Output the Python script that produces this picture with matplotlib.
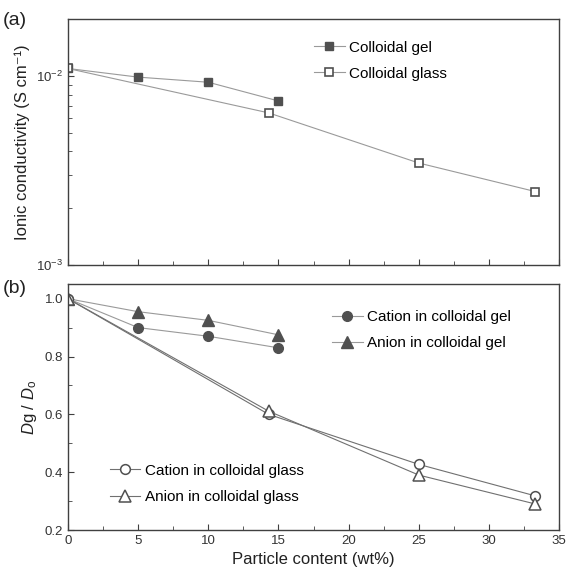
import matplotlib
import matplotlib.pyplot as plt
from matplotlib.ticker import LogLocator, MultipleLocator, FixedLocator, NullFormatter, FormatStrFormatter

matplotlib.use("Agg")

plt.rcParams["font.family"] = ["Liberation Sans", "DejaVu Sans"]
plt.rcParams["mathtext.fontset"] = "custom"
plt.rcParams["mathtext.rm"] = "Liberation Sans"
plt.rcParams["mathtext.it"] = "Liberation Sans:italic"

# (a) ionic conductivity
gel_x = [0, 5, 10, 15]
gel_cond = [1.10e-2, 0.99e-2, 9.3e-3, 7.4e-3]
glass_x = [0, 14.3, 25, 33.3]
glass_cond = [1.10e-2, 6.4e-3, 3.47e-3, 2.45e-3]

# (b) normalized diffusion coefficients
cation_gel = [1.0, 0.90, 0.87, 0.83]
anion_gel = [1.0, 0.955, 0.925, 0.875]
cation_glass = [1.0, 0.60, 0.427, 0.318]
anion_glass = [1.0, 0.611, 0.39, 0.29]

LINE = "#9a9a9a"
MARK = "#505050"
SPINE = "#404040"

fig = plt.figure(figsize=(5.66, 5.73), dpi=100)
ax1 = fig.add_axes([0.120, 0.5375, 0.868, 0.4285])
ax2 = fig.add_axes([0.120, 0.075, 0.868, 0.429])

for ax in (ax1, ax2):
	for s in ax.spines.values():
		s.set_color(SPINE)
		s.set_linewidth(1.0)
	ax.tick_params(which="both", direction="in", color=SPINE, labelsize=9.5, labelcolor="#333333")
	ax.tick_params(which="major", length=4)
	ax.tick_params(which="minor", length=3)
	ax.set_xlim(0, 35)
	ax.xaxis.set_major_locator(MultipleLocator(5))
	ax.xaxis.set_minor_locator(MultipleLocator(2.5))

ax1.plot(gel_x, gel_cond, "-s", color=LINE, lw=0.8, ms=6, mfc=MARK, mec=MARK, label="Colloidal gel")
ax1.plot(glass_x, glass_cond, "-s", color=LINE, lw=0.8, ms=6, mfc="white", mec=MARK, mew=1.2,
	label="Colloidal glass")
ax1.set_yscale("log")
ax1.set_ylim(1e-3, 2e-2)
ax1.yaxis.set_major_locator(FixedLocator([1e-3, 1e-2]))
ax1.yaxis.set_minor_locator(LogLocator(base=10, subs=[2, 3, 4, 5, 6, 7, 8, 9]))
ax1.yaxis.set_minor_formatter(NullFormatter())
ax1.set_yticklabels([r"10$^{-3}$", r"10$^{-2}$"])
ax1.tick_params(axis="x", labelbottom=False)
ax1.set_ylabel("Ionic conductivity (S cm⁻¹)", fontsize=12, color="#222222")
ax1.legend(loc="upper right", bbox_to_anchor=(0.80, 0.97), frameon=False, fontsize=11,
	handlelength=2.0, handletextpad=0.3, labelspacing=0.8)

ax2.plot(gel_x, cation_gel, "-o", color=LINE, lw=0.8, ms=7, mfc=MARK, mec=MARK, label="Cation in colloidal gel")
ax2.plot(gel_x, anion_gel, "-^", color=LINE, lw=0.8, ms=8, mfc=MARK, mec=MARK, label="Anion in colloidal gel")
ax2.plot(glass_x, cation_glass, "-o", color="#707070", lw=0.8, ms=7, mfc="white", mec=MARK, mew=1.1,
	label="Cation in colloidal glass")
ax2.plot(glass_x, anion_glass, "-^", color="#707070", lw=0.8, ms=8, mfc="white", mec=MARK, mew=1.1,
	label="Anion in colloidal glass")
ax2.set_ylim(0.2, 1.05)
ax2.yaxis.set_major_locator(MultipleLocator(0.2))
ax2.yaxis.set_minor_locator(MultipleLocator(0.1))
ax2.yaxis.set_major_formatter(FormatStrFormatter("%.1f"))
ax2.set_xlabel("Particle content (wt%)", fontsize=12, color="#222222")
ax2.set_ylabel(r"$\mathit{D}$g / $\mathit{D}$$_{\mathrm{o}}$", fontsize=12, color="#222222")

h, lab = ax2.get_legend_handles_labels()
leg1 = ax2.legend(h[:2], lab[:2], loc="upper right", bbox_to_anchor=(0.93, 0.95), frameon=False, fontsize=11,
	handlelength=2.0, handletextpad=0.3, labelspacing=0.8)
ax2.add_artist(leg1)
ax2.legend(h[2:], lab[2:], loc="lower left", bbox_to_anchor=(0.057, 0.05), frameon=False, fontsize=11,
	handlelength=2.0, handletextpad=0.3, labelspacing=0.8)

fig.text(0.005, 0.965, "(a)", fontsize=14, color="#222222", va="center")
fig.text(0.005, 0.497, "(b)", fontsize=14, color="#222222", va="center")

fig.savefig("out.png", dpi=100)
